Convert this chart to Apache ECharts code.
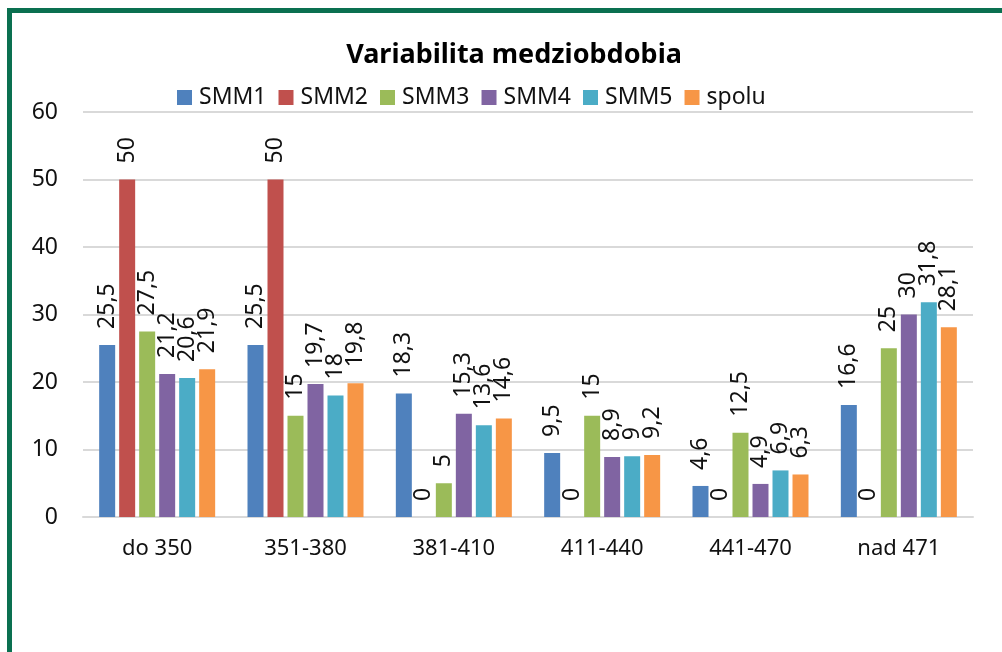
<!DOCTYPE html>
<html>
<head>
<meta charset="utf-8">
<script src="https://cdn.jsdelivr.net/npm/echarts@6/dist/echarts.min.js"></script>
<style>
  html, body { margin: 0; padding: 0; background: #fff; }
  #frame {
    position: absolute; left: 7px; top: 8px; right: -10px; bottom: -10px;
    border-left: 5px solid #0a7050; border-top: 5px solid #0a7050;
    pointer-events: none;
  }
  #chart { position: absolute; left: 0; top: 0; width: 1002px; height: 652px; }
</style>
</head>
<body>
<div id="chart"></div>
<div id="frame"></div>
<script>
const categories = ['do 350', '351-380', '381-410', '411-440', '441-470', 'nad 471']
const seriesNames = ['SMM1', 'SMM2', 'SMM3', 'SMM4', 'SMM5', 'spolu']
const smm1 = [25.5, 25.5, 18.3, 9.5, 4.6, 16.6]
const smm2 = [50, 50, 0, 0, 0, 0]
const smm3 = [27.5, 15, 5, 15, 12.5, 25]
const smm4 = [21.2, 19.7, 15.3, 8.9, 4.9, 30]
const smm5 = [20.6, 18, 13.6, 9, 6.9, 31.8]
const spolu = [21.9, 19.8, 14.6, 9.2, 6.3, 28.1]
const colors = ['#4f81bd', '#c0504d', '#9bbb59', '#8064a2', '#4bacc6', '#f79646']

const allValues = [smm1, smm2, smm3, smm4, smm5, spolu]
const font = '"Noto Sans", sans-serif'

const chart = echarts.init(document.getElementById('chart'))

chart.setOption({
  animation: false,
  color: colors,
  title: {
    text: 'Variabilita medziobdobia',
    left: 509,
    textAlign: 'center',
    top: 37,
    textStyle: { fontFamily: font, fontSize: 27, fontWeight: 'bold', color: '#000' }
  },
  legend: {
    data: seriesNames,
    left: 172,
    top: 81,
    icon: 'rect',
    itemWidth: 15,
    itemHeight: 15,
    itemGap: 12,
    textStyle: { fontFamily: font, fontSize: 23, color: '#111', padding: [0, 0, 0, 2] }
  },
  grid: { left: 83, right: 29, top: 112, bottom: 135, containLabel: false },
  xAxis: {
    type: 'category',
    data: categories,
    axisLine: { lineStyle: { color: '#d9d9d9', width: 2 } },
    axisTick: { show: false },
    axisLabel: { fontFamily: font, fontSize: 22, color: '#111', margin: 21 }
  },
  yAxis: {
    type: 'value',
    min: 0,
    max: 60,
    interval: 10,
    axisLine: { show: false },
    axisTick: { show: false },
    splitLine: { lineStyle: { color: '#d9d9d9', width: 2 } },
    axisLabel: { fontFamily: font, fontSize: 23, color: '#111', margin: 25 }
  },
  series: seriesNames.map((name, i) => ({
    name,
    type: 'bar',
    data: allValues[i],
    barWidth: 16,
    barGap: '25%',
    label: {
      show: true,
      position: 'top',
      rotate: 90,
      align: 'left',
      verticalAlign: 'middle',
      distance: 16,
      fontFamily: font,
      fontSize: 23,
      color: '#111',
      formatter: (p) => String(p.value).replace('.', ',')
    }
  }))
})
</script>
</body>
</html>
